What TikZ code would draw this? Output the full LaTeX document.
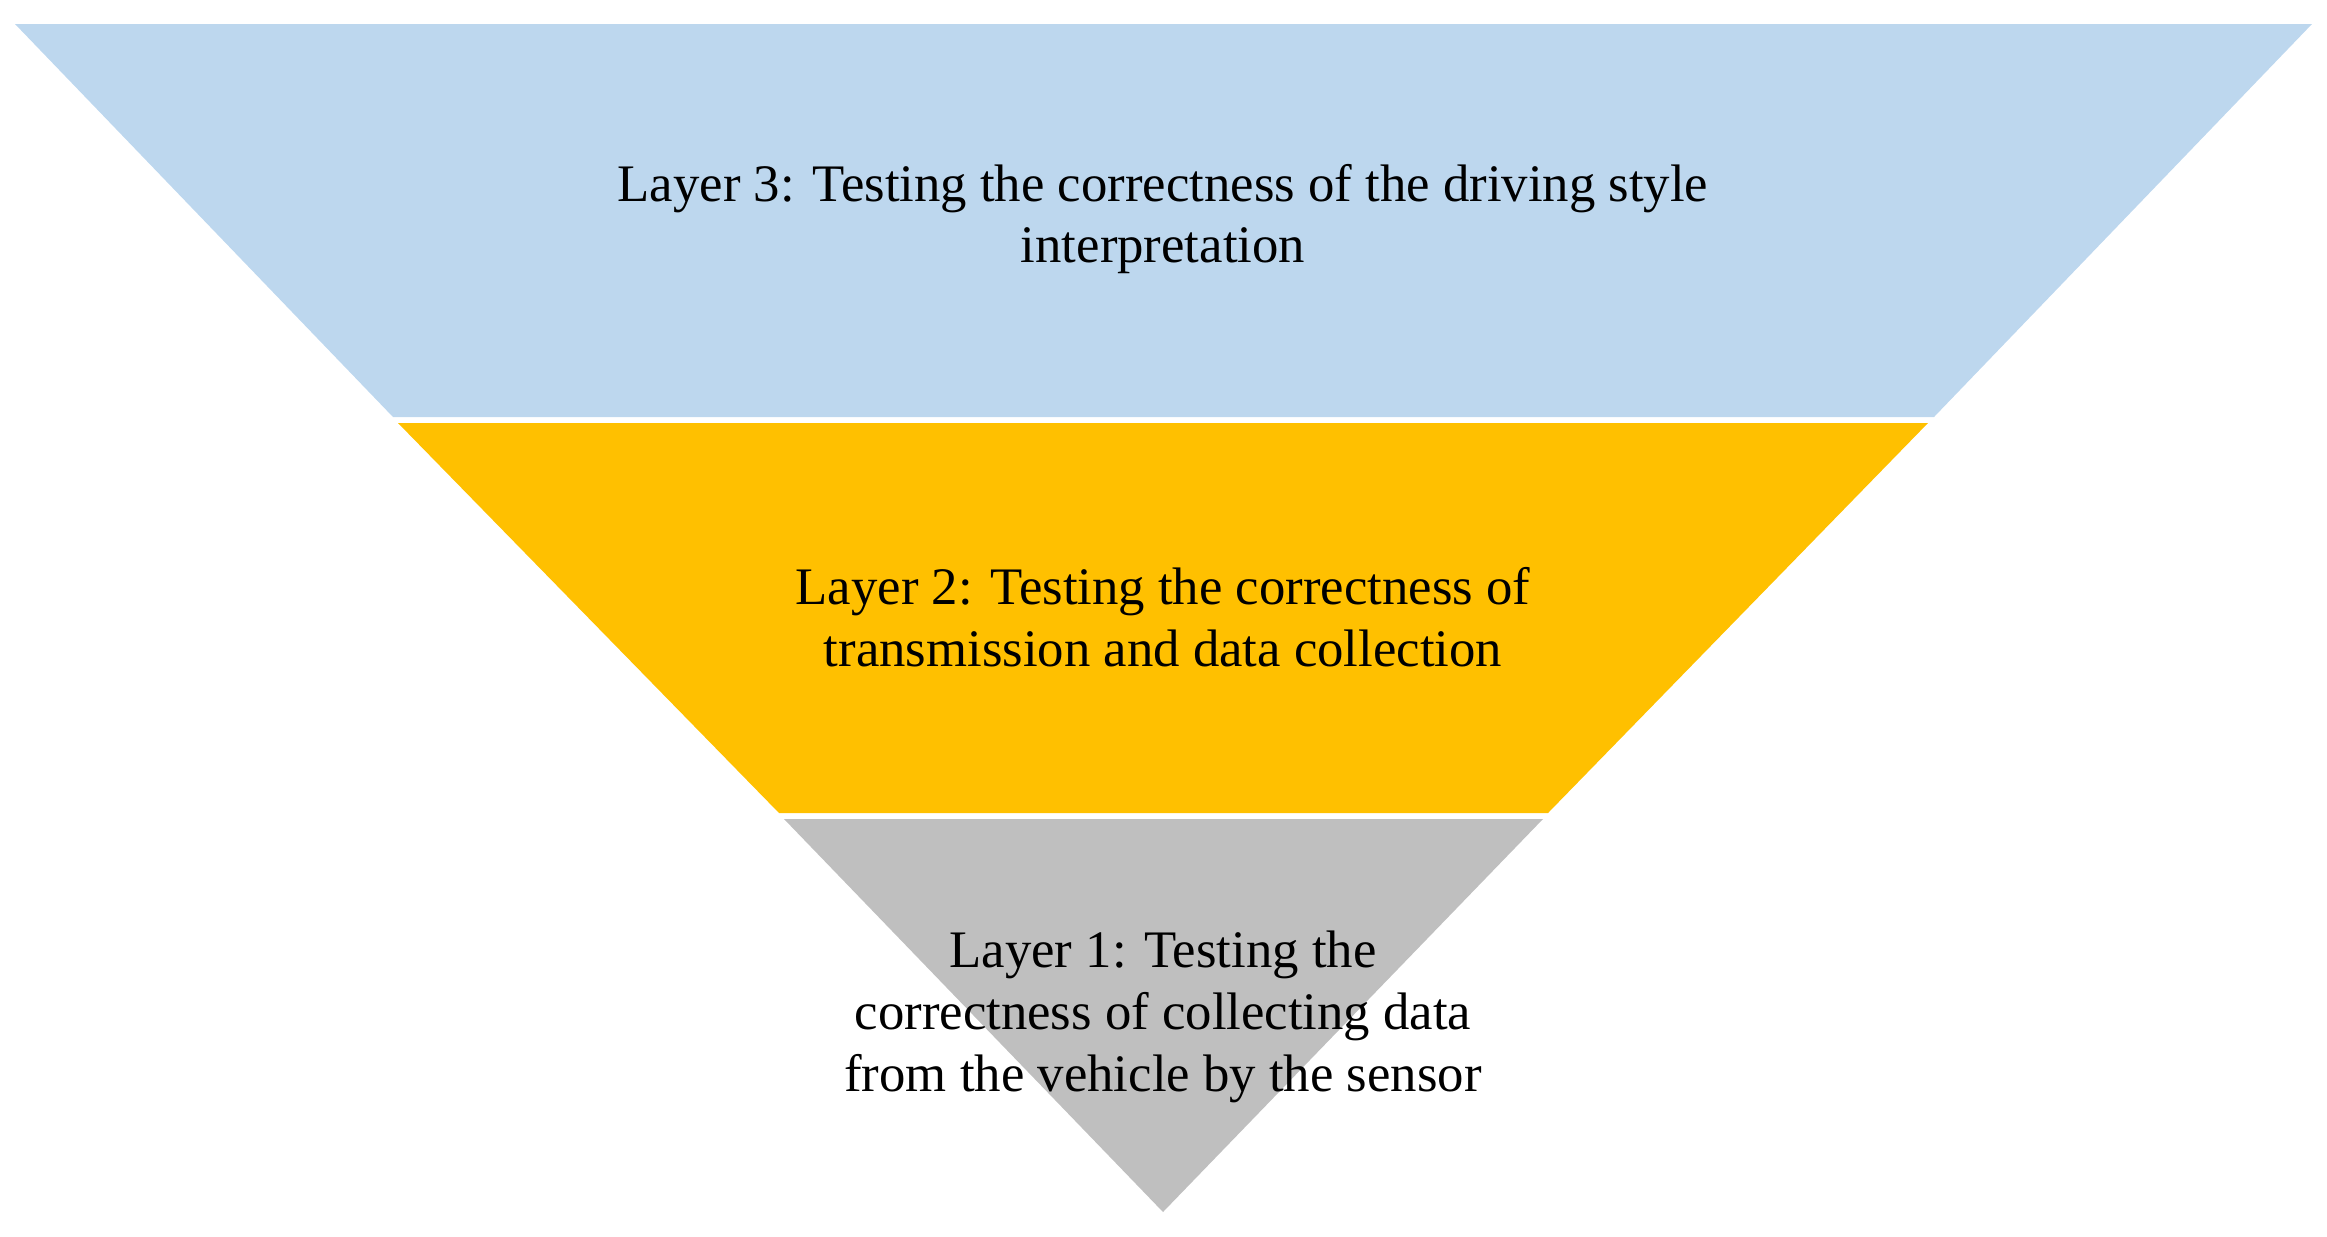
\documentclass[tikz,border=0pt]{standalone}
\usepackage{fontspec}
\setmainfont{Liberation Serif}
\definecolor{lb}{HTML}{BDD7EE}
\definecolor{gd}{HTML}{FFC000}
\definecolor{gy}{HTML}{BFBFBF}
\begin{document}
\begin{tikzpicture}[x=0.01cm,y=-0.01cm,
  lbl/.style={align=center,font=\fontsize{15pt}{17.6pt}\selectfont}]
\useasboundingbox (0,0) rectangle (2327,1236);
\fill[lb] (15,24) -- (2312,24) -- (1934,417) -- (393,417) -- cycle;
\fill[gd] (398,423) -- (1928,423) -- (1548,813) -- (779,813) -- cycle;
\fill[gy] (784,819) -- (1543,819) -- (1163,1212) -- cycle;
\node[lbl] (l3) at (1163,219) {Layer 3: Testing the correctness of the driving style\\interpretation};
\node[lbl] (l2) at (1163,617) {Layer 2: Testing the correctness of\\transmission and data collection};
\node[lbl] (l1) at (1163,1017) {Layer 1: Testing the\\correctness of collecting data\\from the vehicle by the sensor};
\end{tikzpicture}
\end{document}
